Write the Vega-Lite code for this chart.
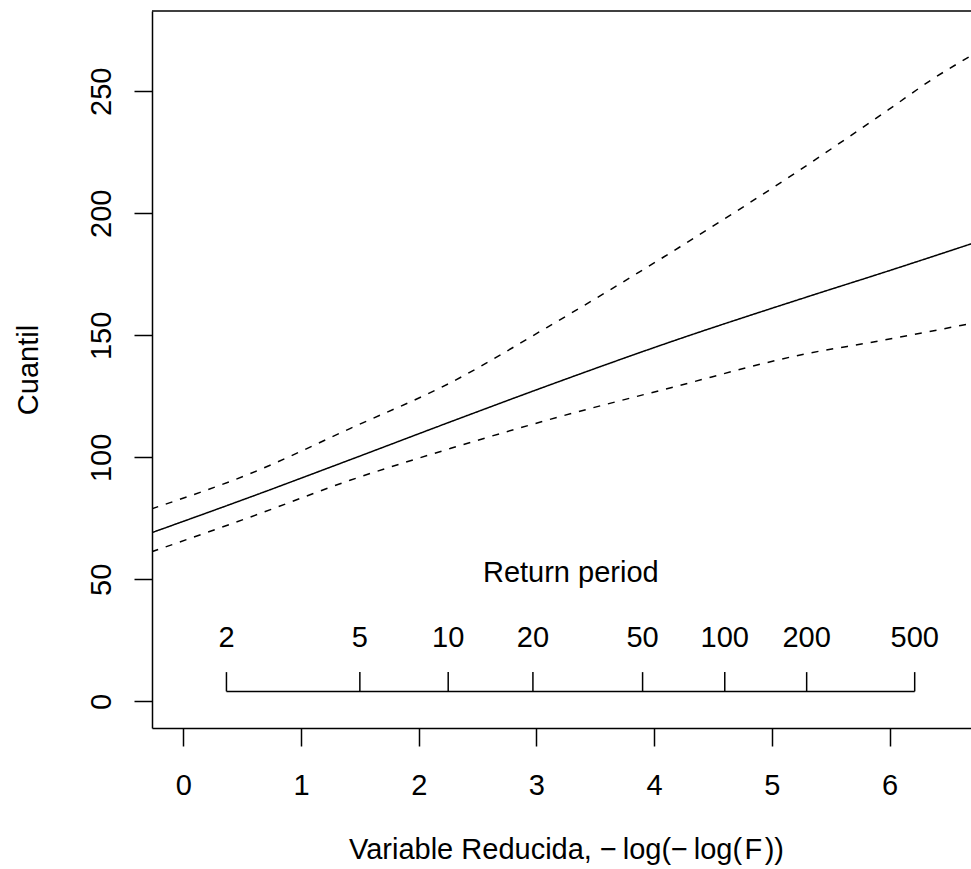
{
  "$schema": "https://vega.github.io/schema/vega-lite/v6.json",
  "autosize": "none",
  "width": 819,
  "height": 717,
  "padding": {"left": 152, "top": 11, "right": 0, "bottom": 141},
  "background": "white",
  "config": {
    "view": {"stroke": null},
    "font": "Liberation Sans",
    "axis": {
      "grid": false,
      "domainColor": "black",
      "domainWidth": 1.5,
      "tickColor": "black",
      "tickWidth": 1.5,
      "labelColor": "black",
      "titleColor": "black",
      "labelFont": "Liberation Sans",
      "titleFont": "Liberation Sans",
      "labelFontSize": 29,
      "titleFontSize": 29,
      "titleFontWeight": "normal"
    }
  },
  "datasets": {
    "curves": [
      {"s": "est", "x": -0.27, "q": 69.1},
      {"s": "est", "x": 0.567, "q": 83.7},
      {"s": "est", "x": 1.416, "q": 99.0},
      {"s": "est", "x": 2.266, "q": 114.5},
      {"s": "est", "x": 3.03, "q": 128.2},
      {"s": "est", "x": 4.163, "q": 147.7},
      {"s": "est", "x": 5.296, "q": 165.7},
      {"s": "est", "x": 6.004, "q": 176.6},
      {"s": "est", "x": 6.7, "q": 187.6},
      {"s": "upper", "x": -0.27, "q": 78.9},
      {"s": "upper", "x": 0.567, "q": 93.3},
      {"s": "upper", "x": 1.416, "q": 111.8},
      {"s": "upper", "x": 2.266, "q": 130.5},
      {"s": "upper", "x": 3.088, "q": 153.2},
      {"s": "upper", "x": 4.218, "q": 186.2},
      {"s": "upper", "x": 5.211, "q": 216.9},
      {"s": "upper", "x": 6.004, "q": 242.9},
      {"s": "upper", "x": 6.372, "q": 255.2},
      {"s": "upper", "x": 6.7, "q": 264.8},
      {"s": "lower", "x": -0.27, "q": 61.3},
      {"s": "lower", "x": 0.567, "q": 75.5},
      {"s": "lower", "x": 1.416, "q": 90.6},
      {"s": "lower", "x": 2.266, "q": 103.6},
      {"s": "lower", "x": 3.088, "q": 115.2},
      {"s": "lower", "x": 4.163, "q": 128.8},
      {"s": "lower", "x": 5.296, "q": 142.5},
      {"s": "lower", "x": 5.863, "q": 147.3},
      {"s": "lower", "x": 6.7, "q": 154.9}
    ],
    "rp": [
      {"label": "2", "x": 0.3665},
      {"label": "5", "x": 1.4999},
      {"label": "10", "x": 2.2504},
      {"label": "20", "x": 2.9702},
      {"label": "50", "x": 3.9019},
      {"label": "100", "x": 4.6001},
      {"label": "200", "x": 5.2958},
      {"label": "500", "x": 6.2136}
    ]
  },
  "layer": [
    {
      "data": {"name": "curves"},
      "mark": {"type": "line", "clip": true, "interpolate": "monotone", "strokeWidth": 1.5, "color": "black"},
      "encoding": {
        "x": {
          "field": "x", "type": "quantitative",
          "scale": {"domain": [-0.266, 6.692], "nice": false, "zero": false},
          "axis": {
            "orient": "bottom",
            "values": [0, 1, 2, 3, 4, 5, 6],
            "format": "d",
            "tickSize": 18,
            "labelPadding": 25,
            "labelFlush": false,
            "labelOverlap": false,
            "title": "Variable Reducida, −\u2009log(−\u2009log(\u200aF\u200a))",
            "titleX": 414,
            "titleY": 130,
            "titleAlign": "center",
            "titleBaseline": "alphabetic"
          }
        },
        "y": {
          "field": "q", "type": "quantitative",
          "scale": {"domain": [-10.9, 282.9], "nice": false, "zero": false},
          "axis": {
            "orient": "left",
            "values": [0, 50, 100, 150, 200, 250],
            "format": "d",
            "tickSize": 18,
            "labelAngle": -90,
            "labelAlign": "center",
            "labelBaseline": "bottom",
            "labelPadding": 18,
            "labelFlush": false,
            "labelOverlap": false,
            "title": "Cuantil",
            "titleAngle": -90,
            "titleX": -115,
            "titleY": 358.5,
            "titleAlign": "center",
            "titleBaseline": "alphabetic"
          }
        },
        "detail": {"field": "s"},
        "strokeDash": {
          "field": "s", "type": "nominal",
          "scale": {"domain": ["est", "upper", "lower"], "range": [[1, 0], [7, 8], [7, 8]]},
          "legend": null
        }
      }
    },
    {
      "data": {"values": [{"edge": "top"}]},
      "mark": {"type": "rule", "color": "black", "strokeWidth": 1.5},
      "encoding": {
        "y": {"datum": 282.9}
      }
    },
    {
      "data": {"name": "rp"},
      "mark": {"type": "rule", "color": "black", "strokeWidth": 1.5},
      "encoding": {
        "x": {"aggregate": "min", "field": "x", "type": "quantitative"},
        "x2": {"aggregate": "max", "field": "x"},
        "y": {"datum": 4.1}
      }
    },
    {
      "data": {"name": "rp"},
      "mark": {"type": "rule", "color": "black", "strokeWidth": 1.5},
      "encoding": {
        "x": {"field": "x", "type": "quantitative"},
        "y": {"datum": 4.1},
        "y2": {"datum": 12.0}
      }
    },
    {
      "data": {"name": "rp"},
      "mark": {"type": "text", "fontSize": 29, "align": "center", "baseline": "middle", "color": "black", "font": "Liberation Sans"},
      "encoding": {
        "x": {"field": "x", "type": "quantitative"},
        "y": {"datum": 26},
        "text": {"field": "label"}
      }
    },
    {
      "data": {"values": [{"label": "Return period"}]},
      "mark": {"type": "text", "fontSize": 29, "align": "center", "baseline": "middle", "color": "black", "font": "Liberation Sans"},
      "encoding": {
        "x": {"datum": 3.292},
        "y": {"datum": 52.6},
        "text": {"field": "label"}
      }
    }
  ]
}
